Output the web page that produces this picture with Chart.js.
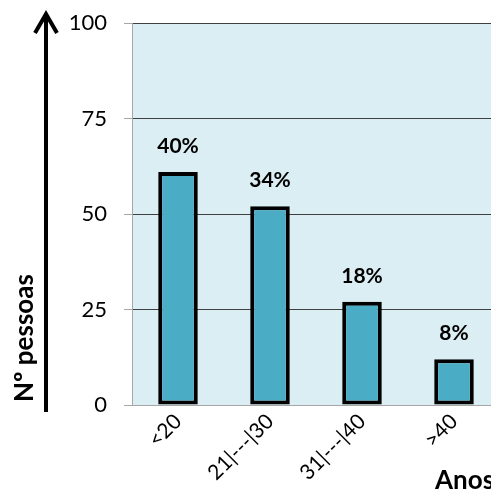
<!DOCTYPE html>
<html>
<head>
<meta charset="utf-8">
<script src="https://cdn.jsdelivr.net/npm/chart.js@4"></script>
<style>
  html, body { margin: 0; padding: 0; background: #fff; overflow: hidden; }
  #wrap { position: absolute; left: 0; top: 0; width: 510px; height: 493px; }
</style>
</head>
<body>
<div id="wrap"><canvas id="idadeChart" width="510" height="493"></canvas></div>
<script>
// Faixas etárias e número de pessoas
const faixas = ['<20', '21|---|30', '31|---|40', '>40'];
const pessoas = [61, 52, 27, 12];
const percentagens = ['40%', '34%', '18%', '8%'];
const yTicks = [0, 25, 50, 75, 100];

const fonte = 'Lato, "Open Sans", sans-serif';

// fundo da área do gráfico
const fundoArea = {
  id: 'fundoArea',
  beforeDraw(chart) {
    const { ctx, chartArea: a } = chart;
    ctx.save();
    ctx.fillStyle = '#dbeef3';
    ctx.fillRect(a.left, a.top, a.right - a.left, a.bottom - a.top);
    ctx.restore();
  }
};

// percentagens por cima das barras
const rotulos = {
  id: 'rotulos',
  afterDatasetsDraw(chart) {
    const { ctx } = chart;
    const meta = chart.getDatasetMeta(0);
    ctx.save();
    ctx.font = 'bold 21px ' + fonte;
    ctx.fillStyle = '#000';
    ctx.textAlign = 'center';
    ctx.textBaseline = 'alphabetic';
    meta.data.forEach((bar, i) => {
      ctx.fillText(percentagens[i], bar.x, bar.y - 19);
    });
    ctx.restore();
  }
};

// seta vertical e títulos dos eixos
const eixos = {
  id: 'eixos',
  afterDraw(chart) {
    const { ctx } = chart;
    ctx.save();
    ctx.strokeStyle = '#000';
    ctx.lineWidth = 4;
    ctx.beginPath();
    ctx.moveTo(46, 412);
    ctx.lineTo(46, 15);
    ctx.stroke();
    ctx.beginPath();
    ctx.moveTo(35, 33);
    ctx.lineTo(46, 14);
    ctx.lineTo(57, 33);
    ctx.stroke();

    ctx.fillStyle = '#000';
    ctx.font = 'bold 26px ' + fonte;
    ctx.translate(33, 338);
    ctx.rotate(-Math.PI / 2);
    ctx.textAlign = 'center';
    ctx.textBaseline = 'alphabetic';
    ctx.fillText('Nº pessoas', 0, 0);
    ctx.restore();

    ctx.save();
    ctx.fillStyle = '#000';
    ctx.font = 'bold 26px ' + fonte;
    ctx.textAlign = 'left';
    ctx.textBaseline = 'alphabetic';
    ctx.fillText('Anos', 435, 489);
    ctx.restore();
  }
};

new Chart(document.getElementById('idadeChart'), {
  type: 'bar',
  data: {
    labels: faixas,
    datasets: [{
      data: pessoas,
      backgroundColor: '#4bacc6',
      borderColor: '#000',
      borderWidth: 4,
      borderSkipped: false,
      barPercentage: 0.43,
      categoryPercentage: 1
    }]
  },
  options: {
    responsive: false,
    animation: false,
    devicePixelRatio: 1,
    layout: { padding: { left: 0, top: 23, right: 10, bottom: 0 } },
    plugins: { legend: { display: false }, tooltip: { enabled: false } },
    scales: {
      x: {
        grid: { display: false },
        border: { display: true, color: '#a6a6a6', width: 1 },
        ticks: {
          color: '#000',
          font: { family: fonte, size: 21 },
          minRotation: 45,
          maxRotation: 45,
          padding: -4
        },
        afterFit(scale) { scale.height = 88; }
      },
      y: {
        min: 0,
        max: 100,
        afterBuildTicks(scale) { scale.ticks = yTicks.map(v => ({ value: v })); },
        grid: {
          color: c => (c.tick && c.tick.value === 0 ? '#a6a6a6' : '#404040'),
          tickColor: '#a6a6a6',
          tickLength: 8,
          lineWidth: 1
        },
        border: { display: true, color: '#a6a6a6', width: 1 },
        ticks: {
          color: '#000',
          font: { family: fonte, size: 22 },
          padding: 17
        },
        afterFit(scale) {
          scale.width = 132;
          scale.paddingTop = 0;
          scale.paddingBottom = 0;
        }
      }
    }
  },
  plugins: [fundoArea, rotulos, eixos]
});
</script>
</body>
</html>
